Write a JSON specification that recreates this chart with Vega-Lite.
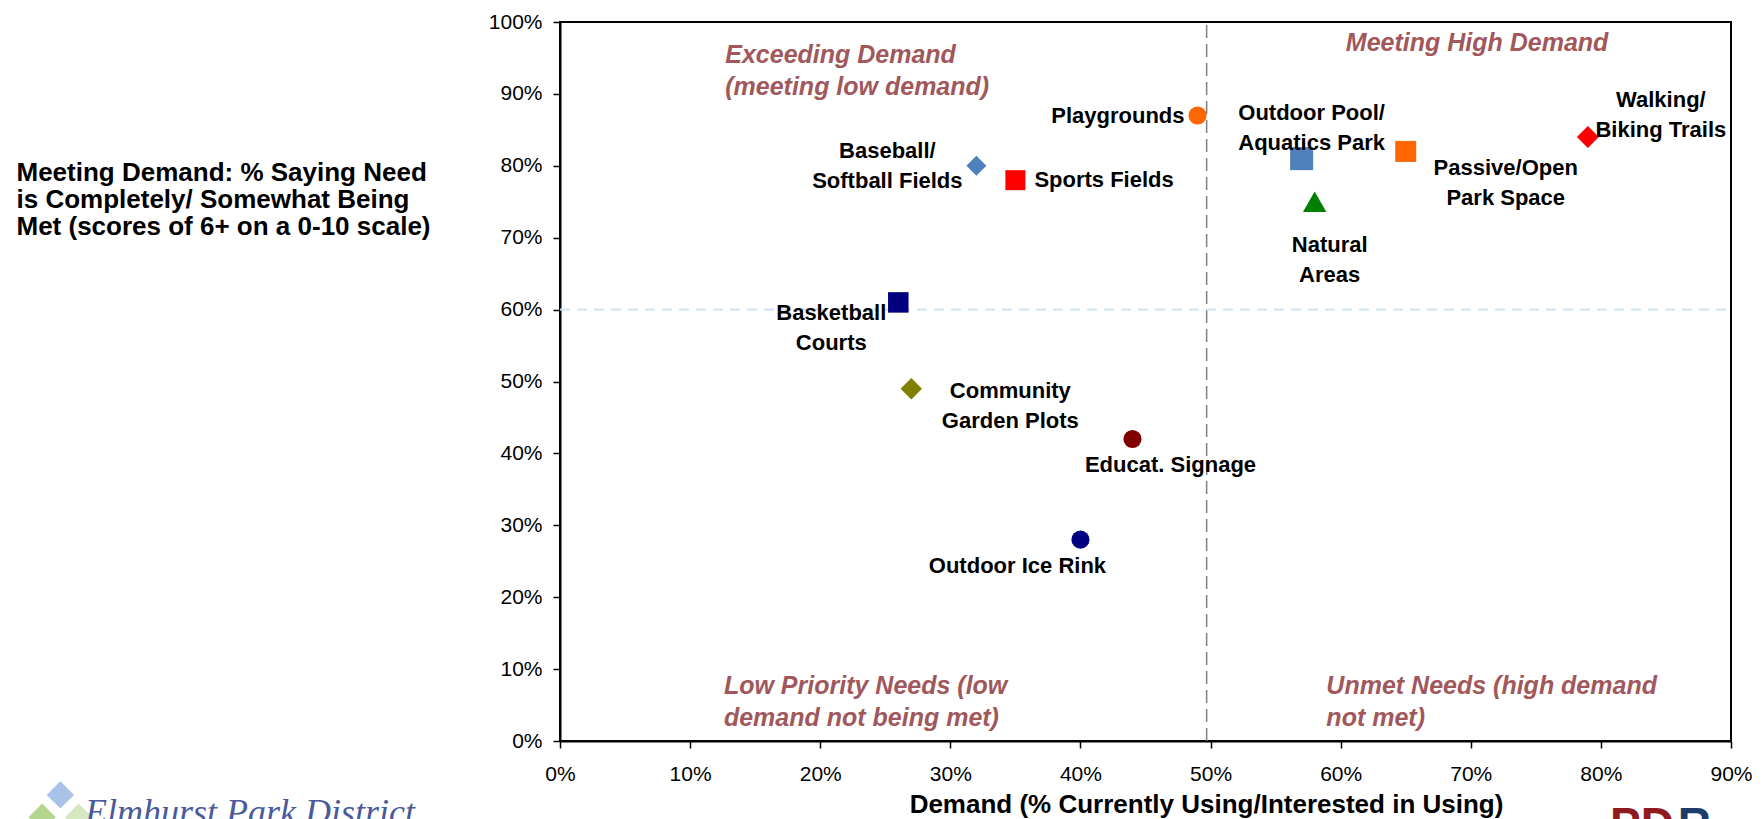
{
  "$schema": "https://vega.github.io/schema/vega-lite/v6.json",
  "autosize": {"type": "none"},
  "width": 1171,
  "height": 719,
  "padding": {"left": 560, "top": 22, "right": 32, "bottom": 78},
  "background": "white",
  "config": {
    "view": {"stroke": "#000000", "strokeWidth": 2},
    "font": "Liberation Sans",
    "text": {"font": "Liberation Sans", "fontSize": 22, "fontWeight": "bold", "color": "#000000", "lineBreak": "\n", "lineHeight": 30}
  },
  "datasets": {
    "pts": [
      {"name": "Playgrounds", "label": "Playgrounds", "x": 49, "y": 87},
      {"name": "Baseball/Softball Fields", "label": "Baseball/\nSoftball Fields", "x": 32, "y": 80},
      {"name": "Sports Fields", "label": "Sports Fields", "x": 35, "y": 78},
      {"name": "Outdoor Pool/Aquatics Park", "label": "Outdoor Pool/\nAquatics Park", "x": 57, "y": 81},
      {"name": "Natural Areas", "label": "Natural\nAreas", "x": 58, "y": 75},
      {"name": "Passive/Open Park Space", "label": "Passive/Open\nPark Space", "x": 65, "y": 82},
      {"name": "Walking/Biking Trails", "label": "Walking/\nBiking Trails", "x": 79, "y": 84},
      {"name": "Basketball Courts", "label": "Basketball\nCourts", "x": 26, "y": 61},
      {"name": "Community Garden Plots", "label": "Community\nGarden Plots", "x": 27, "y": 49},
      {"name": "Educat. Signage", "label": "Educat. Signage", "x": 44, "y": 42},
      {"name": "Outdoor Ice Rink", "label": "Outdoor Ice Rink", "x": 40, "y": 28}
    ],
    "quads": [
      {"q": "Exceeding Demand\n(meeting low demand)", "x": 12.7, "y": 94.3},
      {"q": "Meeting High Demand", "x": 60.4, "y": 95.9},
      {"q": "Low Priority Needs (low\ndemand not being met)", "x": 12.6, "y": 6.6},
      {"q": "Unmet Needs (high demand\nnot met)", "x": 58.9, "y": 6.6}
    ],
    "logos": [
      {"t": "Elmhurst Park District", "part": "elm", "x": -36.5, "y": -11.6},
      {"t": "PD", "part": "pd", "x": 80.7, "y": -13.8},
      {"t": "R", "part": "r", "x": 85.9, "y": -13.8}
    ],
    "icon": [
      {"part": "blue", "x": -38.4, "y": -7.5},
      {"part": "green", "x": -39.8, "y": -10.6},
      {"part": "lightgreen", "x": -37.0, "y": -10.6}
    ]
  },
  "encoding": {
    "x": {"field": "x", "type": "quantitative", "scale": {"domain": [0, 90], "nice": false, "zero": false},
      "axis": {"values": [0, 10, 20, 30, 40, 50, 60, 70, 80, 90], "labelExpr": "datum.value + '%'", "grid": false,
        "labelFont": "Liberation Sans", "labelFontSize": 21, "labelColor": "#000000", "labelPadding": 15,
        "tickColor": "#000000", "tickSize": 7, "tickWidth": 1.5, "domainColor": "#000000", "domainWidth": 2,
        "title": "Demand (% Currently Using/Interested in Using)", "titleFont": "Liberation Sans", "titleFontSize": 26,
        "titleFontWeight": "bold", "titleColor": "#000000", "titleX": 646, "titleY": 71, "titleAlign": "center", "titleBaseline": "alphabetic", "labelFlush": false, "labelOverlap": false}},
    "y": {"field": "y", "type": "quantitative", "scale": {"domain": [0, 100], "nice": false, "zero": false},
      "axis": {"values": [0, 10, 20, 30, 40, 50, 60, 70, 80, 90, 100], "labelExpr": "datum.value + '%'", "grid": false,
        "labelFont": "Liberation Sans", "labelFontSize": 21, "labelColor": "#000000", "labelPadding": 11,
        "tickColor": "#000000", "tickSize": 7, "tickWidth": 1.5, "domainColor": "#000000", "domainWidth": 2,
        "title": ["Meeting Demand:  % Saying Need", "is Completely/ Somewhat Being", "Met (scores of 6+ on a 0-10 scale)"],
        "titleFont": "Liberation Sans", "titleFontSize": 26, "titleFontWeight": "bold", "titleColor": "#000000",
        "titleAngle": 0, "titleAlign": "left", "titleBaseline": "alphabetic", "titleX": -544, "titleY": 158, "titleLineHeight": 27, "labelFlush": false, "labelOverlap": false}}
  },
  "layer": [
    {
      "data": {"values": [{"x": 49.7, "y": 0, "y2": 100}]},
      "mark": {"type": "rule", "color": "#808080", "strokeWidth": 1.5, "strokeDash": [13, 6]},
      "encoding": {"y2": {"field": "y2"}}
    },
    {
      "data": {"values": [{"x": 0, "x2": 90, "y": 60}]},
      "mark": {"type": "rule", "color": "#CFE3F5", "strokeWidth": 2, "strokeDash": [10, 7]},
      "encoding": {"x2": {"field": "x2"}}
    },
    {
      "data": {"name": "pts"},
      "mark": {"type": "point", "filled": true, "opacity": 1, "strokeWidth": 0},
      "encoding": {
        "color": {"field": "name", "type": "nominal", "legend": null, "scale": {
          "domain": ["Playgrounds", "Baseball/Softball Fields", "Sports Fields", "Outdoor Pool/Aquatics Park", "Natural Areas", "Passive/Open Park Space", "Walking/Biking Trails", "Basketball Courts", "Community Garden Plots", "Educat. Signage", "Outdoor Ice Rink"],
          "range": ["#FF6600", "#4F81BD", "#FF0000", "#4F81BD", "#008000", "#FF6600", "#FF0000", "#000080", "#808000", "#800000", "#000080"]}},
        "shape": {"field": "name", "type": "nominal", "legend": null, "scale": {
          "domain": ["Playgrounds", "Baseball/Softball Fields", "Sports Fields", "Outdoor Pool/Aquatics Park", "Natural Areas", "Passive/Open Park Space", "Walking/Biking Trails", "Basketball Courts", "Community Garden Plots", "Educat. Signage", "Outdoor Ice Rink"],
          "range": ["circle", "diamond", "square", "square", "triangle-up", "square", "diamond", "square", "diamond", "circle", "circle"]}},
        "size": {"field": "name", "type": "nominal", "legend": null, "scale": {"type": "ordinal",
          "domain": ["Playgrounds", "Baseball/Softball Fields", "Sports Fields", "Outdoor Pool/Aquatics Park", "Natural Areas", "Passive/Open Park Space", "Walking/Biking Trails", "Basketball Courts", "Community Garden Plots", "Educat. Signage", "Outdoor Ice Rink"],
          "range": [330, 400, 400, 530, 550, 440, 480, 420, 460, 330, 330]}}
      }
    },
    {"data": {"name": "pts"}, "transform": [{"filter": "datum.name === 'Playgrounds'"}],
     "mark": {"type": "text", "align": "right", "baseline": "middle", "dx": -13, "dy": 1},
     "encoding": {"text": {"field": "label"}}},
    {"data": {"name": "pts"}, "transform": [{"filter": "datum.name === 'Baseball/Softball Fields'"}],
     "mark": {"type": "text", "align": "center", "baseline": "middle", "dx": -89, "dy": -15},
     "encoding": {"text": {"field": "label"}}},
    {"data": {"name": "pts"}, "transform": [{"filter": "datum.name === 'Sports Fields'"}],
     "mark": {"type": "text", "align": "left", "baseline": "middle", "dx": 19, "dy": 0},
     "encoding": {"text": {"field": "label"}}},
    {"data": {"name": "pts"}, "transform": [{"filter": "datum.name === 'Outdoor Pool/Aquatics Park'"}],
     "mark": {"type": "text", "align": "center", "baseline": "middle", "dx": 10, "dy": -46},
     "encoding": {"text": {"field": "label"}}},
    {"data": {"name": "pts"}, "transform": [{"filter": "datum.name === 'Natural Areas'"}],
     "mark": {"type": "text", "align": "center", "baseline": "middle", "dx": 15, "dy": 43},
     "encoding": {"text": {"field": "label"}}},
    {"data": {"name": "pts"}, "transform": [{"filter": "datum.name === 'Passive/Open Park Space'"}],
     "mark": {"type": "text", "align": "center", "baseline": "middle", "dx": 100, "dy": 17},
     "encoding": {"text": {"field": "label"}}},
    {"data": {"name": "pts"}, "transform": [{"filter": "datum.name === 'Walking/Biking Trails'"}],
     "mark": {"type": "text", "align": "center", "baseline": "middle", "dx": 73, "dy": -37},
     "encoding": {"text": {"field": "label"}}},
    {"data": {"name": "pts"}, "transform": [{"filter": "datum.name === 'Basketball Courts'"}],
     "mark": {"type": "text", "align": "center", "baseline": "middle", "dx": -67, "dy": 11},
     "encoding": {"text": {"field": "label"}}},
    {"data": {"name": "pts"}, "transform": [{"filter": "datum.name === 'Community Garden Plots'"}],
     "mark": {"type": "text", "align": "center", "baseline": "middle", "dx": 99, "dy": 2},
     "encoding": {"text": {"field": "label"}}},
    {"data": {"name": "pts"}, "transform": [{"filter": "datum.name === 'Educat. Signage'"}],
     "mark": {"type": "text", "align": "center", "baseline": "middle", "dx": 38, "dy": 26},
     "encoding": {"text": {"field": "label"}}},
    {"data": {"name": "pts"}, "transform": [{"filter": "datum.name === 'Outdoor Ice Rink'"}],
     "mark": {"type": "text", "align": "center", "baseline": "middle", "dx": -63, "dy": 26},
     "encoding": {"text": {"field": "label"}}},
    {"data": {"name": "quads"},
     "mark": {"type": "text", "align": "left", "baseline": "alphabetic", "fontSize": 25, "fontStyle": "italic", "fontWeight": "bold", "color": "#A0585C", "lineHeight": 32},
     "encoding": {"text": {"field": "q"}}},
    {"data": {"name": "icon"}, "transform": [{"filter": "datum.part === 'blue'"}],
     "mark": {"type": "point", "shape": "diamond", "filled": true, "opacity": 1, "strokeWidth": 0, "color": "#A9C3E8", "size": 750}},
    {"data": {"name": "icon"}, "transform": [{"filter": "datum.part === 'green'"}],
     "mark": {"type": "point", "shape": "diamond", "filled": true, "opacity": 1, "strokeWidth": 0, "color": "#B3D58E", "size": 750}},
    {"data": {"name": "icon"}, "transform": [{"filter": "datum.part === 'lightgreen'"}],
     "mark": {"type": "point", "shape": "diamond", "filled": true, "opacity": 1, "strokeWidth": 0, "color": "#D5E8C0", "size": 750}},
    {"data": {"name": "logos"}, "transform": [{"filter": "datum.part === 'elm'"}],
     "mark": {"type": "text", "align": "left", "baseline": "alphabetic", "font": "Liberation Serif", "fontSize": 36, "fontStyle": "italic", "fontWeight": "normal", "color": "#4A5A9C"},
     "encoding": {"text": {"field": "t"}}},
    {"data": {"name": "logos"}, "transform": [{"filter": "datum.part === 'pd'"}],
     "mark": {"type": "text", "align": "left", "baseline": "alphabetic", "fontSize": 46, "fontWeight": "bold", "color": "#8E1B1E"},
     "encoding": {"text": {"field": "t"}}},
    {"data": {"name": "logos"}, "transform": [{"filter": "datum.part === 'r'"}],
     "mark": {"type": "text", "align": "left", "baseline": "alphabetic", "fontSize": 46, "fontWeight": "bold", "color": "#1F3B6C"},
     "encoding": {"text": {"field": "t"}}}
  ]
}
